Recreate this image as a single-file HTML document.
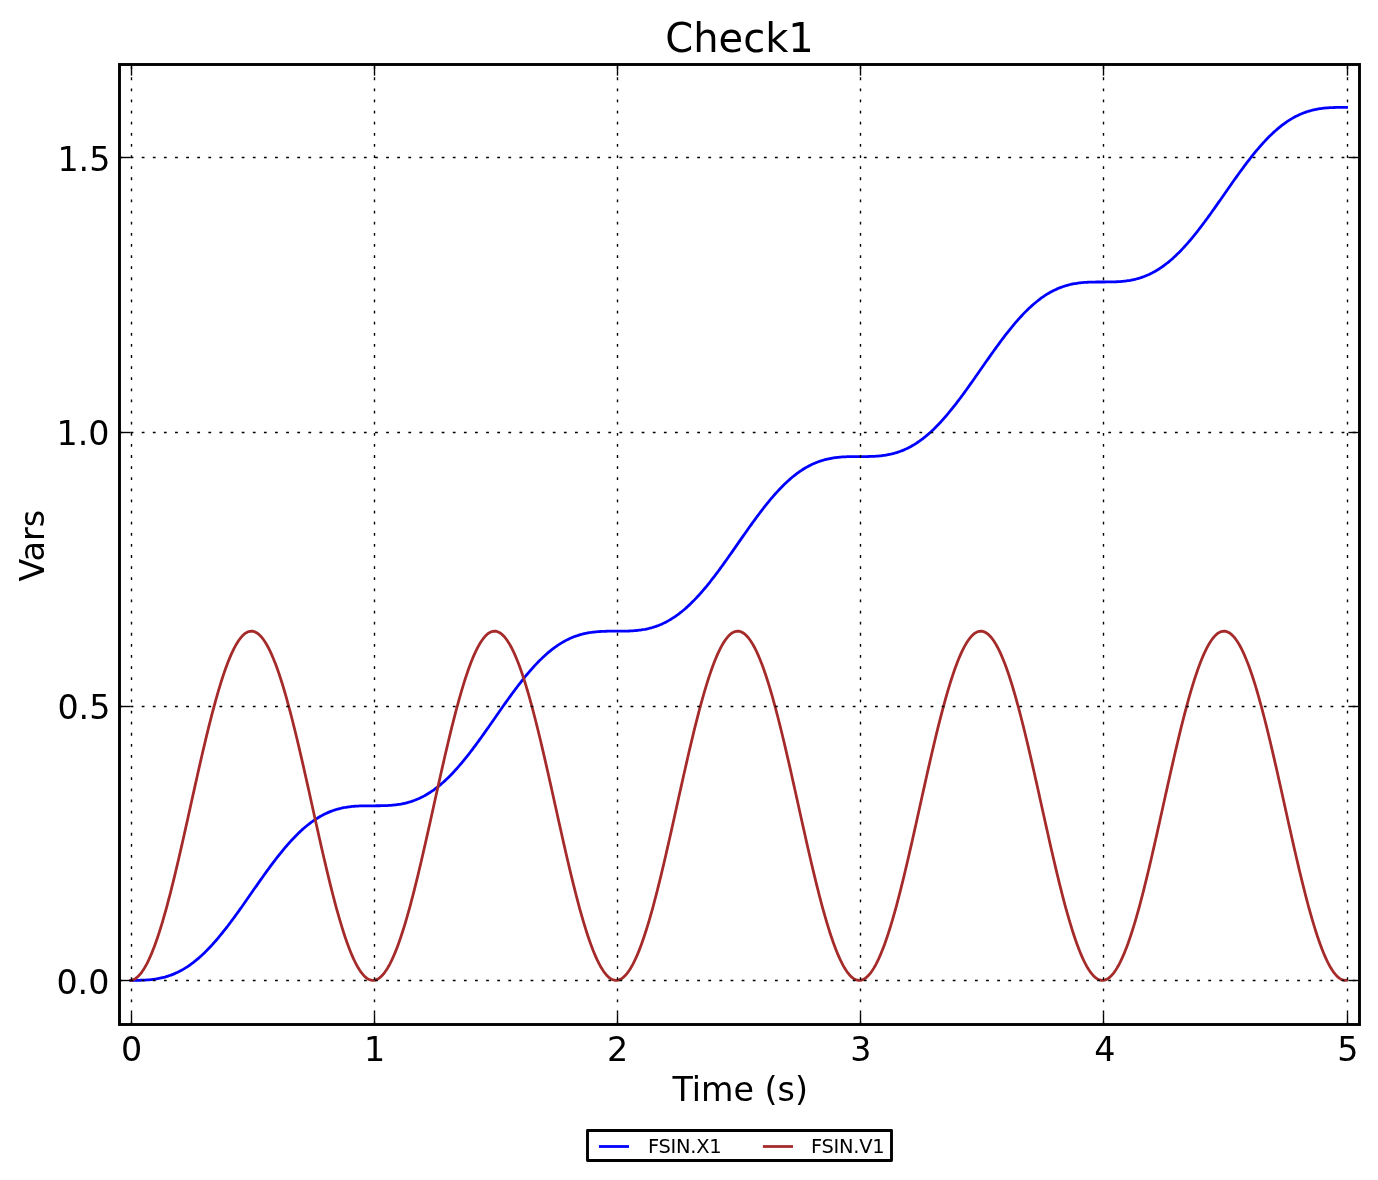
<!DOCTYPE html>
<html lang="en"><head><meta charset="utf-8"><title>Check1</title>
<style>html,body{margin:0;padding:0;background:#fff}svg{display:block}text{font-family:"DejaVu Sans","Liberation Sans",sans-serif;fill:#000}</style></head><body>
<svg width="1378" height="1180" viewBox="0 0 1378 1180">
<rect x="0" y="0" width="1378" height="1180" fill="#fff"/>
<path d="M130.88,980.36 L132.10,980.36 L133.31,980.36 L134.53,980.35 L135.74,980.34 L136.96,980.33 L138.17,980.31 L139.39,980.29 L140.61,980.26 L141.82,980.22 L143.04,980.18 L144.25,980.12 L145.47,980.06 L146.68,979.98 L147.90,979.89 L149.12,979.79 L150.33,979.68 L151.55,979.55 L152.76,979.41 L153.98,979.26 L155.19,979.08 L156.41,978.89 L157.63,978.69 L158.84,978.46 L160.06,978.22 L161.27,977.96 L162.49,977.67 L163.70,977.37 L164.92,977.05 L166.13,976.70 L167.35,976.33 L168.57,975.94 L169.78,975.53 L171.00,975.09 L172.21,974.63 L173.43,974.15 L174.64,973.64 L175.86,973.10 L177.08,972.54 L178.29,971.95 L179.51,971.34 L180.72,970.70 L181.94,970.04 L183.15,969.34 L184.37,968.62 L185.59,967.88 L186.80,967.11 L188.02,966.30 L189.23,965.48 L190.45,964.62 L191.66,963.74 L192.88,962.83 L194.10,961.89 L195.31,960.93 L196.53,959.93 L197.74,958.91 L198.96,957.87 L200.17,956.79 L201.39,955.70 L202.61,954.57 L203.82,953.42 L205.04,952.24 L206.25,951.04 L207.47,949.81 L208.68,948.55 L209.90,947.28 L211.12,945.97 L212.33,944.65 L213.55,943.30 L214.76,941.93 L215.98,940.53 L217.19,939.12 L218.41,937.68 L219.63,936.22 L220.84,934.74 L222.06,933.25 L223.27,931.73 L224.49,930.20 L225.70,928.65 L226.92,927.08 L228.13,925.49 L229.35,923.89 L230.57,922.28 L231.78,920.65 L233.00,919.00 L234.21,917.35 L235.43,915.68 L236.64,914.00 L237.86,912.32 L239.08,910.62 L240.29,908.91 L241.51,907.20 L242.72,905.48 L243.94,903.75 L245.15,902.02 L246.37,900.28 L247.59,898.54 L248.80,896.80 L250.02,895.05 L251.23,893.31 L252.45,891.56 L253.66,889.82 L254.88,888.07 L256.10,886.33 L257.31,884.59 L258.53,882.86 L259.74,881.13 L260.96,879.41 L262.17,877.69 L263.39,875.99 L264.61,874.29 L265.82,872.59 L267.04,870.91 L268.25,869.24 L269.47,867.59 L270.68,865.94 L271.90,864.31 L273.12,862.69 L274.33,861.08 L275.55,859.49 L276.76,857.92 L277.98,856.36 L279.19,854.82 L280.41,853.30 L281.63,851.80 L282.84,850.32 L284.06,848.85 L285.27,847.41 L286.49,845.99 L287.70,844.59 L288.92,843.21 L290.13,841.85 L291.35,840.52 L292.57,839.21 L293.78,837.93 L295.00,836.67 L296.21,835.43 L297.43,834.22 L298.64,833.04 L299.86,831.88 L301.08,830.74 L302.29,829.64 L303.51,828.56 L304.72,827.50 L305.94,826.48 L307.15,825.48 L308.37,824.50 L309.59,823.56 L310.80,822.64 L312.02,821.75 L313.23,820.89 L314.45,820.05 L315.66,819.24 L316.88,818.46 L318.10,817.71 L319.31,816.98 L320.53,816.28 L321.74,815.61 L322.96,814.96 L324.17,814.34 L325.39,813.75 L326.61,813.18 L327.82,812.64 L329.04,812.12 L330.25,811.63 L331.47,811.16 L332.68,810.72 L333.90,810.30 L335.12,809.90 L336.33,809.53 L337.55,809.17 L338.76,808.84 L339.98,808.54 L341.19,808.25 L342.41,807.98 L343.63,807.73 L344.84,807.50 L346.06,807.29 L347.27,807.09 L348.49,806.92 L349.70,806.76 L350.92,806.61 L352.13,806.48 L353.35,806.36 L354.57,806.26 L355.78,806.17 L357.00,806.09 L358.21,806.02 L359.43,805.96 L360.64,805.92 L361.86,805.88 L363.08,805.84 L364.29,805.82 L365.51,805.80 L366.72,805.79 L367.94,805.78 L369.15,805.77 L370.37,805.77 L371.59,805.77 L372.80,805.77 L374.02,805.77 L375.23,805.77 L376.45,805.76 L377.66,805.76 L378.88,805.75 L380.10,805.74 L381.31,805.72 L382.53,805.70 L383.74,805.67 L384.96,805.63 L386.17,805.58 L387.39,805.53 L388.61,805.46 L389.82,805.39 L391.04,805.30 L392.25,805.20 L393.47,805.09 L394.68,804.96 L395.90,804.82 L397.12,804.66 L398.33,804.49 L399.55,804.30 L400.76,804.10 L401.98,803.87 L403.19,803.63 L404.41,803.36 L405.63,803.08 L406.84,802.78 L408.06,802.45 L409.27,802.11 L410.49,801.74 L411.70,801.35 L412.92,800.94 L414.13,800.50 L415.35,800.04 L416.57,799.55 L417.78,799.04 L419.00,798.51 L420.21,797.95 L421.43,797.36 L422.64,796.75 L423.86,796.11 L425.08,795.44 L426.29,794.75 L427.51,794.03 L428.72,793.29 L429.94,792.51 L431.15,791.71 L432.37,790.88 L433.59,790.03 L434.80,789.15 L436.02,788.23 L437.23,787.30 L438.45,786.33 L439.66,785.34 L440.88,784.32 L442.10,783.27 L443.31,782.20 L444.53,781.10 L445.74,779.98 L446.96,778.82 L448.17,777.65 L449.39,776.44 L450.61,775.21 L451.82,773.96 L453.04,772.68 L454.25,771.38 L455.47,770.05 L456.68,768.71 L457.90,767.33 L459.12,765.94 L460.33,764.52 L461.55,763.09 L462.76,761.63 L463.98,760.15 L465.19,758.65 L466.41,757.14 L467.63,755.60 L468.84,754.05 L470.06,752.48 L471.27,750.90 L472.49,749.30 L473.70,747.68 L474.92,746.05 L476.13,744.41 L477.35,742.76 L478.57,741.09 L479.78,739.41 L481.00,737.72 L482.21,736.03 L483.43,734.32 L484.64,732.61 L485.86,730.88 L487.08,729.16 L488.29,727.43 L489.51,725.69 L490.72,723.95 L491.94,722.21 L493.15,720.46 L494.37,718.71 L495.59,716.97 L496.80,715.22 L498.02,713.48 L499.23,711.74 L500.45,710.00 L501.66,708.27 L502.88,706.54 L504.10,704.82 L505.31,703.10 L506.53,701.39 L507.74,699.69 L508.96,698.00 L510.17,696.32 L511.39,694.65 L512.61,692.99 L513.82,691.35 L515.04,689.71 L516.25,688.09 L517.47,686.49 L518.68,684.90 L519.90,683.33 L521.12,681.77 L522.33,680.23 L523.55,678.71 L524.76,677.21 L525.98,675.72 L527.19,674.26 L528.41,672.82 L529.63,671.40 L530.84,670.00 L532.06,668.62 L533.27,667.26 L534.49,665.93 L535.70,664.62 L536.92,663.34 L538.13,662.08 L539.35,660.84 L540.57,659.63 L541.78,658.44 L543.00,657.28 L544.21,656.15 L545.43,655.04 L546.64,653.96 L547.86,652.91 L549.08,651.88 L550.29,650.88 L551.51,649.91 L552.72,648.97 L553.94,648.05 L555.15,647.16 L556.37,646.29 L557.59,645.46 L558.80,644.65 L560.02,643.87 L561.23,643.12 L562.45,642.39 L563.66,641.69 L564.88,641.02 L566.10,640.37 L567.31,639.75 L568.53,639.16 L569.74,638.59 L570.96,638.05 L572.17,637.53 L573.39,637.04 L574.61,636.57 L575.82,636.12 L577.04,635.70 L578.25,635.31 L579.47,634.93 L580.68,634.58 L581.90,634.25 L583.12,633.94 L584.33,633.65 L585.55,633.39 L586.76,633.14 L587.98,632.91 L589.19,632.70 L590.41,632.50 L591.63,632.32 L592.84,632.16 L594.06,632.02 L595.27,631.89 L596.49,631.77 L597.70,631.67 L598.92,631.58 L600.13,631.50 L601.35,631.43 L602.57,631.37 L603.78,631.32 L605.00,631.28 L606.21,631.25 L607.43,631.23 L608.64,631.21 L609.86,631.19 L611.08,631.18 L612.29,631.18 L613.51,631.18 L614.72,631.17 L615.94,631.17 L617.15,631.17 L618.37,631.17 L619.59,631.17 L620.80,631.17 L622.02,631.16 L623.23,631.15 L624.45,631.13 L625.66,631.10 L626.88,631.07 L628.10,631.04 L629.31,630.99 L630.53,630.94 L631.74,630.87 L632.96,630.80 L634.17,630.71 L635.39,630.61 L636.61,630.50 L637.82,630.37 L639.04,630.23 L640.25,630.07 L641.47,629.90 L642.68,629.71 L643.90,629.50 L645.12,629.28 L646.33,629.03 L647.55,628.77 L648.76,628.49 L649.98,628.19 L651.19,627.86 L652.41,627.52 L653.63,627.15 L654.84,626.76 L656.06,626.34 L657.27,625.91 L658.49,625.45 L659.70,624.96 L660.92,624.45 L662.13,623.91 L663.35,623.35 L664.57,622.77 L665.78,622.15 L667.00,621.52 L668.21,620.85 L669.43,620.16 L670.64,619.44 L671.86,618.69 L673.08,617.92 L674.29,617.12 L675.51,616.29 L676.72,615.44 L677.94,614.55 L679.15,613.64 L680.37,612.70 L681.59,611.74 L682.80,610.75 L684.02,609.73 L685.23,608.68 L686.45,607.61 L687.66,606.51 L688.88,605.38 L690.10,604.23 L691.31,603.05 L692.53,601.85 L693.74,600.62 L694.96,599.37 L696.17,598.09 L697.39,596.79 L698.61,595.46 L699.82,594.11 L701.04,592.74 L702.25,591.35 L703.47,589.93 L704.68,588.49 L705.90,587.04 L707.12,585.56 L708.33,584.06 L709.55,582.55 L710.76,581.01 L711.98,579.46 L713.19,577.89 L714.41,576.31 L715.63,574.71 L716.84,573.09 L718.06,571.46 L719.27,569.82 L720.49,568.16 L721.70,566.50 L722.92,564.82 L724.13,563.13 L725.35,561.43 L726.57,559.73 L727.78,558.01 L729.00,556.29 L730.21,554.56 L731.43,552.83 L732.64,551.10 L733.86,549.36 L735.08,547.61 L736.29,545.87 L737.51,544.12 L738.72,542.38 L739.94,540.63 L741.15,538.89 L742.37,537.15 L743.59,535.41 L744.80,533.68 L746.02,531.95 L747.23,530.22 L748.45,528.51 L749.66,526.80 L750.88,525.10 L752.10,523.41 L753.31,521.73 L754.53,520.06 L755.74,518.40 L756.96,516.75 L758.17,515.12 L759.39,513.50 L760.61,511.90 L761.82,510.31 L763.04,508.73 L764.25,507.18 L765.47,505.64 L766.68,504.12 L767.90,502.61 L769.12,501.13 L770.33,499.67 L771.55,498.22 L772.76,496.80 L773.98,495.40 L775.19,494.02 L776.41,492.67 L777.63,491.34 L778.84,490.03 L780.06,488.74 L781.27,487.48 L782.49,486.25 L783.70,485.04 L784.92,483.85 L786.13,482.69 L787.35,481.56 L788.57,480.45 L789.78,479.37 L791.00,478.32 L792.21,477.29 L793.43,476.29 L794.64,475.32 L795.86,474.37 L797.08,473.45 L798.29,472.56 L799.51,471.70 L800.72,470.87 L801.94,470.06 L803.15,469.28 L804.37,468.52 L805.59,467.80 L806.80,467.10 L808.02,466.42 L809.23,465.78 L810.45,465.16 L811.66,464.56 L812.88,464.00 L814.10,463.45 L815.31,462.94 L816.53,462.44 L817.74,461.98 L818.96,461.53 L820.17,461.11 L821.39,460.71 L822.61,460.34 L823.82,459.99 L825.04,459.66 L826.25,459.35 L827.47,459.06 L828.68,458.79 L829.90,458.54 L831.12,458.31 L832.33,458.10 L833.55,457.91 L834.76,457.73 L835.98,457.57 L837.19,457.42 L838.41,457.29 L839.63,457.18 L840.84,457.07 L842.06,456.98 L843.27,456.90 L844.49,456.84 L845.70,456.78 L846.92,456.73 L848.13,456.69 L849.35,456.66 L850.57,456.63 L851.78,456.61 L853.00,456.60 L854.21,456.59 L855.43,456.59 L856.64,456.58 L857.86,456.58 L859.08,456.58 L860.29,456.58 L861.51,456.58 L862.72,456.58 L863.94,456.57 L865.15,456.56 L866.37,456.55 L867.59,456.53 L868.80,456.51 L870.02,456.48 L871.23,456.44 L872.45,456.40 L873.66,456.34 L874.88,456.28 L876.10,456.20 L877.31,456.11 L878.53,456.02 L879.74,455.90 L880.96,455.78 L882.17,455.63 L883.39,455.48 L884.61,455.31 L885.82,455.12 L887.04,454.91 L888.25,454.68 L889.47,454.44 L890.68,454.18 L891.90,453.90 L893.12,453.59 L894.33,453.27 L895.55,452.92 L896.76,452.55 L897.98,452.16 L899.19,451.75 L900.41,451.31 L901.63,450.85 L902.84,450.37 L904.06,449.86 L905.27,449.32 L906.49,448.76 L907.70,448.17 L908.92,447.56 L910.13,446.92 L911.35,446.26 L912.57,445.56 L913.78,444.85 L915.00,444.10 L916.21,443.33 L917.43,442.53 L918.64,441.70 L919.86,440.84 L921.08,439.96 L922.29,439.05 L923.51,438.11 L924.72,437.15 L925.94,436.15 L927.15,435.14 L928.37,434.09 L929.59,433.02 L930.80,431.92 L932.02,430.79 L933.23,429.64 L934.45,428.46 L935.66,427.26 L936.88,426.03 L938.10,424.77 L939.31,423.50 L940.53,422.19 L941.74,420.87 L942.96,419.52 L944.17,418.15 L945.39,416.75 L946.61,415.34 L947.82,413.90 L949.04,412.44 L950.25,410.97 L951.47,409.47 L952.68,407.95 L953.90,406.42 L955.12,404.87 L956.33,403.30 L957.55,401.71 L958.76,400.11 L959.98,398.50 L961.19,396.87 L962.41,395.23 L963.63,393.57 L964.84,391.90 L966.06,390.23 L967.27,388.54 L968.49,386.84 L969.70,385.13 L970.92,383.42 L972.13,381.70 L973.35,379.97 L974.57,378.24 L975.78,376.50 L977.00,374.76 L978.21,373.02 L979.43,371.27 L980.64,369.53 L981.86,367.78 L983.08,366.04 L984.29,364.29 L985.51,362.55 L986.72,360.82 L987.94,359.08 L989.15,357.35 L990.37,355.63 L991.59,353.92 L992.80,352.21 L994.02,350.51 L995.23,348.82 L996.45,347.13 L997.66,345.46 L998.88,343.81 L1000.10,342.16 L1001.31,340.53 L1002.53,338.91 L1003.74,337.30 L1004.96,335.71 L1006.17,334.14 L1007.39,332.58 L1008.61,331.04 L1009.82,329.52 L1011.04,328.02 L1012.25,326.54 L1013.47,325.07 L1014.68,323.63 L1015.90,322.21 L1017.12,320.81 L1018.33,319.43 L1019.55,318.08 L1020.76,316.74 L1021.98,315.43 L1023.19,314.15 L1024.41,312.89 L1025.63,311.65 L1026.84,310.44 L1028.06,309.26 L1029.27,308.10 L1030.49,306.97 L1031.70,305.86 L1032.92,304.78 L1034.13,303.72 L1035.35,302.70 L1036.57,301.70 L1037.78,300.73 L1039.00,299.78 L1040.21,298.86 L1041.43,297.97 L1042.64,297.11 L1043.86,296.27 L1045.08,295.46 L1046.29,294.68 L1047.51,293.93 L1048.72,293.20 L1049.94,292.50 L1051.15,291.83 L1052.37,291.18 L1053.59,290.56 L1054.80,289.97 L1056.02,289.40 L1057.23,288.86 L1058.45,288.34 L1059.66,287.85 L1060.88,287.38 L1062.10,286.94 L1063.31,286.52 L1064.53,286.12 L1065.74,285.75 L1066.96,285.40 L1068.17,285.07 L1069.39,284.76 L1070.61,284.47 L1071.82,284.20 L1073.04,283.95 L1074.25,283.72 L1075.47,283.51 L1076.68,283.32 L1077.90,283.14 L1079.12,282.98 L1080.33,282.83 L1081.55,282.70 L1082.76,282.58 L1083.98,282.48 L1085.19,282.39 L1086.41,282.31 L1087.63,282.24 L1088.84,282.19 L1090.06,282.14 L1091.27,282.10 L1092.49,282.07 L1093.70,282.04 L1094.92,282.02 L1096.13,282.01 L1097.35,282.00 L1098.57,281.99 L1099.78,281.99 L1101.00,281.99 L1102.21,281.99 L1103.43,281.99 L1104.64,281.99 L1105.86,281.98 L1107.08,281.98 L1108.29,281.97 L1109.51,281.96 L1110.72,281.94 L1111.94,281.92 L1113.15,281.89 L1114.37,281.85 L1115.59,281.81 L1116.80,281.75 L1118.02,281.69 L1119.23,281.61 L1120.45,281.52 L1121.66,281.42 L1122.88,281.31 L1124.10,281.18 L1125.31,281.04 L1126.53,280.88 L1127.74,280.71 L1128.96,280.52 L1130.17,280.32 L1131.39,280.09 L1132.61,279.85 L1133.82,279.59 L1135.04,279.30 L1136.25,279.00 L1137.47,278.68 L1138.68,278.33 L1139.90,277.96 L1141.12,277.57 L1142.33,277.16 L1143.55,276.72 L1144.76,276.26 L1145.98,275.77 L1147.19,275.26 L1148.41,274.73 L1149.63,274.17 L1150.84,273.58 L1152.06,272.97 L1153.27,272.33 L1154.49,271.66 L1155.70,270.97 L1156.92,270.25 L1158.13,269.51 L1159.35,268.73 L1160.57,267.93 L1161.78,267.10 L1163.00,266.25 L1164.21,265.37 L1165.43,264.46 L1166.64,263.52 L1167.86,262.55 L1169.08,261.56 L1170.29,260.54 L1171.51,259.50 L1172.72,258.42 L1173.94,257.32 L1175.15,256.20 L1176.37,255.05 L1177.59,253.87 L1178.80,252.66 L1180.02,251.44 L1181.23,250.18 L1182.45,248.90 L1183.66,247.60 L1184.88,246.28 L1186.10,244.93 L1187.31,243.55 L1188.53,242.16 L1189.74,240.75 L1190.96,239.31 L1192.17,237.85 L1193.39,236.37 L1194.61,234.88 L1195.82,233.36 L1197.04,231.83 L1198.25,230.27 L1199.47,228.70 L1200.68,227.12 L1201.90,225.52 L1203.12,223.90 L1204.33,222.27 L1205.55,220.63 L1206.76,218.98 L1207.98,217.31 L1209.19,215.63 L1210.41,213.94 L1211.63,212.25 L1212.84,210.54 L1214.06,208.83 L1215.27,207.11 L1216.49,205.38 L1217.70,203.65 L1218.92,201.91 L1220.13,200.17 L1221.35,198.43 L1222.57,196.68 L1223.78,194.94 L1225.00,193.19 L1226.21,191.45 L1227.43,189.70 L1228.64,187.96 L1229.86,186.22 L1231.08,184.49 L1232.29,182.76 L1233.51,181.04 L1234.72,179.32 L1235.94,177.61 L1237.15,175.91 L1238.37,174.22 L1239.59,172.54 L1240.80,170.87 L1242.02,169.21 L1243.23,167.57 L1244.45,165.93 L1245.66,164.31 L1246.88,162.71 L1248.10,161.12 L1249.31,159.55 L1250.53,157.99 L1251.74,156.45 L1252.96,154.93 L1254.17,153.43 L1255.39,151.94 L1256.61,150.48 L1257.82,149.04 L1259.04,147.62 L1260.25,146.22 L1261.47,144.84 L1262.68,143.48 L1263.90,142.15 L1265.12,140.84 L1266.33,139.56 L1267.55,138.30 L1268.76,137.06 L1269.98,135.85 L1271.19,134.67 L1272.41,133.51 L1273.63,132.37 L1274.84,131.27 L1276.06,130.19 L1277.27,129.13 L1278.49,128.10 L1279.70,127.10 L1280.92,126.13 L1282.13,125.19 L1283.35,124.27 L1284.57,123.38 L1285.78,122.52 L1287.00,121.68 L1288.21,120.87 L1289.43,120.09 L1290.64,119.34 L1291.86,118.61 L1293.08,117.91 L1294.29,117.24 L1295.51,116.59 L1296.72,115.97 L1297.94,115.38 L1299.15,114.81 L1300.37,114.27 L1301.59,113.75 L1302.80,113.26 L1304.02,112.79 L1305.23,112.35 L1306.45,111.93 L1307.66,111.53 L1308.88,111.15 L1310.10,110.80 L1311.31,110.47 L1312.53,110.16 L1313.74,109.87 L1314.96,109.61 L1316.17,109.36 L1317.39,109.13 L1318.61,108.92 L1319.82,108.72 L1321.04,108.54 L1322.25,108.38 L1323.47,108.24 L1324.68,108.11 L1325.90,107.99 L1327.12,107.89 L1328.33,107.80 L1329.55,107.72 L1330.76,107.65 L1331.98,107.59 L1333.19,107.54 L1334.41,107.50 L1335.63,107.47 L1336.84,107.45 L1338.06,107.43 L1339.27,107.41 L1340.49,107.41 L1341.70,107.40 L1342.92,107.40 L1344.13,107.40 L1345.35,107.40 L1346.57,107.40" fill="none" stroke="#0000ff" stroke-width="2.78" stroke-linejoin="round" stroke-linecap="square"/>
<path d="M130.88,980.30 L132.10,980.06 L133.31,979.66 L134.53,979.08 L135.74,978.33 L136.96,977.41 L138.17,976.32 L139.39,975.06 L140.61,973.64 L141.82,972.05 L143.04,970.30 L144.25,968.38 L145.47,966.30 L146.68,964.07 L147.90,961.68 L149.12,959.13 L150.33,956.44 L151.55,953.59 L152.76,950.60 L153.98,947.47 L155.19,944.19 L156.41,940.78 L157.63,937.24 L158.84,933.56 L160.06,929.76 L161.27,925.84 L162.49,921.80 L163.70,917.65 L164.92,913.38 L166.13,909.01 L167.35,904.54 L168.57,899.97 L169.78,895.30 L171.00,890.55 L172.21,885.71 L173.43,880.80 L174.64,875.81 L175.86,870.75 L177.08,865.63 L178.29,860.45 L179.51,855.21 L180.72,849.93 L181.94,844.60 L183.15,839.24 L184.37,833.84 L185.59,828.41 L186.80,822.96 L188.02,817.50 L189.23,812.02 L190.45,806.53 L191.66,801.05 L192.88,795.57 L194.10,790.10 L195.31,784.65 L196.53,779.21 L197.74,773.81 L198.96,768.43 L200.17,763.09 L201.39,757.80 L202.61,752.55 L203.82,747.35 L205.04,742.21 L206.25,737.13 L207.47,732.12 L208.68,727.19 L209.90,722.33 L211.12,717.55 L212.33,712.86 L213.55,708.27 L214.76,703.77 L215.98,699.37 L217.19,695.07 L218.41,690.88 L219.63,686.81 L220.84,682.86 L222.06,679.02 L223.27,675.31 L224.49,671.73 L225.70,668.28 L226.92,664.97 L228.13,661.80 L229.35,658.77 L230.57,655.88 L231.78,653.14 L233.00,650.55 L234.21,648.12 L235.43,645.84 L236.64,643.72 L237.86,641.76 L239.08,639.96 L240.29,638.32 L241.51,636.85 L242.72,635.55 L243.94,634.41 L245.15,633.45 L246.37,632.65 L247.59,632.02 L248.80,631.57 L250.02,631.29 L251.23,631.18 L252.45,631.24 L253.66,631.47 L254.88,631.88 L256.10,632.46 L257.31,633.21 L258.53,634.12 L259.74,635.21 L260.96,636.47 L262.17,637.89 L263.39,639.48 L264.61,641.24 L265.82,643.15 L267.04,645.23 L268.25,647.47 L269.47,649.86 L270.68,652.40 L271.90,655.10 L273.12,657.94 L274.33,660.93 L275.55,664.07 L276.76,667.34 L277.98,670.75 L279.19,674.30 L280.41,677.97 L281.63,681.77 L282.84,685.69 L284.06,689.73 L285.27,693.89 L286.49,698.15 L287.70,702.52 L288.92,707.00 L290.13,711.57 L291.35,716.23 L292.57,720.98 L293.78,725.82 L295.00,730.73 L296.21,735.72 L297.43,740.78 L298.64,745.90 L299.86,751.09 L301.08,756.32 L302.29,761.60 L303.51,766.93 L304.72,772.30 L305.94,777.70 L307.15,783.12 L308.37,788.57 L309.59,794.04 L310.80,799.52 L312.02,805.00 L313.23,810.48 L314.45,815.96 L315.66,821.43 L316.88,826.89 L318.10,832.32 L319.31,837.73 L320.53,843.10 L321.74,848.44 L322.96,853.74 L324.17,858.99 L325.39,864.19 L326.61,869.32 L327.82,874.40 L329.04,879.41 L330.25,884.35 L331.47,889.20 L332.68,893.98 L333.90,898.67 L335.12,903.27 L336.33,907.77 L337.55,912.17 L338.76,916.46 L339.98,920.65 L341.19,924.72 L342.41,928.68 L343.63,932.51 L344.84,936.22 L346.06,939.80 L347.27,943.25 L348.49,946.56 L349.70,949.74 L350.92,952.77 L352.13,955.65 L353.35,958.39 L354.57,960.98 L355.78,963.41 L357.00,965.69 L358.21,967.82 L359.43,969.78 L360.64,971.58 L361.86,973.21 L363.08,974.68 L364.29,975.99 L365.51,977.12 L366.72,978.09 L367.94,978.89 L369.15,979.51 L370.37,979.97 L371.59,980.25 L372.80,980.36 L374.02,980.30 L375.23,980.06 L376.45,979.66 L377.66,979.08 L378.88,978.33 L380.10,977.41 L381.31,976.32 L382.53,975.06 L383.74,973.64 L384.96,972.05 L386.17,970.30 L387.39,968.38 L388.61,966.30 L389.82,964.07 L391.04,961.68 L392.25,959.13 L393.47,956.44 L394.68,953.59 L395.90,950.60 L397.12,947.47 L398.33,944.19 L399.55,940.78 L400.76,937.24 L401.98,933.56 L403.19,929.76 L404.41,925.84 L405.63,921.80 L406.84,917.65 L408.06,913.38 L409.27,909.01 L410.49,904.54 L411.70,899.97 L412.92,895.30 L414.13,890.55 L415.35,885.71 L416.57,880.80 L417.78,875.81 L419.00,870.75 L420.21,865.63 L421.43,860.45 L422.64,855.21 L423.86,849.93 L425.08,844.60 L426.29,839.24 L427.51,833.84 L428.72,828.41 L429.94,822.96 L431.15,817.50 L432.37,812.02 L433.59,806.53 L434.80,801.05 L436.02,795.57 L437.23,790.10 L438.45,784.65 L439.66,779.21 L440.88,773.81 L442.10,768.43 L443.31,763.09 L444.53,757.80 L445.74,752.55 L446.96,747.35 L448.17,742.21 L449.39,737.13 L450.61,732.12 L451.82,727.19 L453.04,722.33 L454.25,717.55 L455.47,712.86 L456.68,708.27 L457.90,703.77 L459.12,699.37 L460.33,695.07 L461.55,690.88 L462.76,686.81 L463.98,682.86 L465.19,679.02 L466.41,675.31 L467.63,671.73 L468.84,668.28 L470.06,664.97 L471.27,661.80 L472.49,658.77 L473.70,655.88 L474.92,653.14 L476.13,650.55 L477.35,648.12 L478.57,645.84 L479.78,643.72 L481.00,641.76 L482.21,639.96 L483.43,638.32 L484.64,636.85 L485.86,635.55 L487.08,634.41 L488.29,633.45 L489.51,632.65 L490.72,632.02 L491.94,631.57 L493.15,631.29 L494.37,631.18 L495.59,631.24 L496.80,631.47 L498.02,631.88 L499.23,632.46 L500.45,633.21 L501.66,634.12 L502.88,635.21 L504.10,636.47 L505.31,637.89 L506.53,639.48 L507.74,641.24 L508.96,643.15 L510.17,645.23 L511.39,647.47 L512.61,649.86 L513.82,652.40 L515.04,655.10 L516.25,657.94 L517.47,660.93 L518.68,664.07 L519.90,667.34 L521.12,670.75 L522.33,674.30 L523.55,677.97 L524.76,681.77 L525.98,685.69 L527.19,689.73 L528.41,693.89 L529.63,698.15 L530.84,702.52 L532.06,707.00 L533.27,711.57 L534.49,716.23 L535.70,720.98 L536.92,725.82 L538.13,730.73 L539.35,735.72 L540.57,740.78 L541.78,745.90 L543.00,751.09 L544.21,756.32 L545.43,761.60 L546.64,766.93 L547.86,772.30 L549.08,777.70 L550.29,783.12 L551.51,788.57 L552.72,794.04 L553.94,799.52 L555.15,805.00 L556.37,810.48 L557.59,815.96 L558.80,821.43 L560.02,826.89 L561.23,832.32 L562.45,837.73 L563.66,843.10 L564.88,848.44 L566.10,853.74 L567.31,858.99 L568.53,864.19 L569.74,869.32 L570.96,874.40 L572.17,879.41 L573.39,884.35 L574.61,889.20 L575.82,893.98 L577.04,898.67 L578.25,903.27 L579.47,907.77 L580.68,912.17 L581.90,916.46 L583.12,920.65 L584.33,924.72 L585.55,928.68 L586.76,932.51 L587.98,936.22 L589.19,939.80 L590.41,943.25 L591.63,946.56 L592.84,949.74 L594.06,952.77 L595.27,955.65 L596.49,958.39 L597.70,960.98 L598.92,963.41 L600.13,965.69 L601.35,967.82 L602.57,969.78 L603.78,971.58 L605.00,973.21 L606.21,974.68 L607.43,975.99 L608.64,977.12 L609.86,978.09 L611.08,978.89 L612.29,979.51 L613.51,979.97 L614.72,980.25 L615.94,980.36 L617.15,980.30 L618.37,980.06 L619.59,979.66 L620.80,979.08 L622.02,978.33 L623.23,977.41 L624.45,976.32 L625.66,975.06 L626.88,973.64 L628.10,972.05 L629.31,970.30 L630.53,968.38 L631.74,966.30 L632.96,964.07 L634.17,961.68 L635.39,959.13 L636.61,956.44 L637.82,953.59 L639.04,950.60 L640.25,947.47 L641.47,944.19 L642.68,940.78 L643.90,937.24 L645.12,933.56 L646.33,929.76 L647.55,925.84 L648.76,921.80 L649.98,917.65 L651.19,913.38 L652.41,909.01 L653.63,904.54 L654.84,899.97 L656.06,895.30 L657.27,890.55 L658.49,885.71 L659.70,880.80 L660.92,875.81 L662.13,870.75 L663.35,865.63 L664.57,860.45 L665.78,855.21 L667.00,849.93 L668.21,844.60 L669.43,839.24 L670.64,833.84 L671.86,828.41 L673.08,822.96 L674.29,817.50 L675.51,812.02 L676.72,806.53 L677.94,801.05 L679.15,795.57 L680.37,790.10 L681.59,784.65 L682.80,779.21 L684.02,773.81 L685.23,768.43 L686.45,763.09 L687.66,757.80 L688.88,752.55 L690.10,747.35 L691.31,742.21 L692.53,737.13 L693.74,732.12 L694.96,727.19 L696.17,722.33 L697.39,717.55 L698.61,712.86 L699.82,708.27 L701.04,703.77 L702.25,699.37 L703.47,695.07 L704.68,690.88 L705.90,686.81 L707.12,682.86 L708.33,679.02 L709.55,675.31 L710.76,671.73 L711.98,668.28 L713.19,664.97 L714.41,661.80 L715.63,658.77 L716.84,655.88 L718.06,653.14 L719.27,650.55 L720.49,648.12 L721.70,645.84 L722.92,643.72 L724.13,641.76 L725.35,639.96 L726.57,638.32 L727.78,636.85 L729.00,635.55 L730.21,634.41 L731.43,633.45 L732.64,632.65 L733.86,632.02 L735.08,631.57 L736.29,631.29 L737.51,631.18 L738.72,631.24 L739.94,631.47 L741.15,631.88 L742.37,632.46 L743.59,633.21 L744.80,634.12 L746.02,635.21 L747.23,636.47 L748.45,637.89 L749.66,639.48 L750.88,641.24 L752.10,643.15 L753.31,645.23 L754.53,647.47 L755.74,649.86 L756.96,652.40 L758.17,655.10 L759.39,657.94 L760.61,660.93 L761.82,664.07 L763.04,667.34 L764.25,670.75 L765.47,674.30 L766.68,677.97 L767.90,681.77 L769.12,685.69 L770.33,689.73 L771.55,693.89 L772.76,698.15 L773.98,702.52 L775.19,707.00 L776.41,711.57 L777.63,716.23 L778.84,720.98 L780.06,725.82 L781.27,730.73 L782.49,735.72 L783.70,740.78 L784.92,745.90 L786.13,751.09 L787.35,756.32 L788.57,761.60 L789.78,766.93 L791.00,772.30 L792.21,777.70 L793.43,783.12 L794.64,788.57 L795.86,794.04 L797.08,799.52 L798.29,805.00 L799.51,810.48 L800.72,815.96 L801.94,821.43 L803.15,826.89 L804.37,832.32 L805.59,837.73 L806.80,843.10 L808.02,848.44 L809.23,853.74 L810.45,858.99 L811.66,864.19 L812.88,869.32 L814.10,874.40 L815.31,879.41 L816.53,884.35 L817.74,889.20 L818.96,893.98 L820.17,898.67 L821.39,903.27 L822.61,907.77 L823.82,912.17 L825.04,916.46 L826.25,920.65 L827.47,924.72 L828.68,928.68 L829.90,932.51 L831.12,936.22 L832.33,939.80 L833.55,943.25 L834.76,946.56 L835.98,949.74 L837.19,952.77 L838.41,955.65 L839.63,958.39 L840.84,960.98 L842.06,963.41 L843.27,965.69 L844.49,967.82 L845.70,969.78 L846.92,971.58 L848.13,973.21 L849.35,974.68 L850.57,975.99 L851.78,977.12 L853.00,978.09 L854.21,978.89 L855.43,979.51 L856.64,979.97 L857.86,980.25 L859.08,980.36 L860.29,980.30 L861.51,980.06 L862.72,979.66 L863.94,979.08 L865.15,978.33 L866.37,977.41 L867.59,976.32 L868.80,975.06 L870.02,973.64 L871.23,972.05 L872.45,970.30 L873.66,968.38 L874.88,966.30 L876.10,964.07 L877.31,961.68 L878.53,959.13 L879.74,956.44 L880.96,953.59 L882.17,950.60 L883.39,947.47 L884.61,944.19 L885.82,940.78 L887.04,937.24 L888.25,933.56 L889.47,929.76 L890.68,925.84 L891.90,921.80 L893.12,917.65 L894.33,913.38 L895.55,909.01 L896.76,904.54 L897.98,899.97 L899.19,895.30 L900.41,890.55 L901.63,885.71 L902.84,880.80 L904.06,875.81 L905.27,870.75 L906.49,865.63 L907.70,860.45 L908.92,855.21 L910.13,849.93 L911.35,844.60 L912.57,839.24 L913.78,833.84 L915.00,828.41 L916.21,822.96 L917.43,817.50 L918.64,812.02 L919.86,806.53 L921.08,801.05 L922.29,795.57 L923.51,790.10 L924.72,784.65 L925.94,779.21 L927.15,773.81 L928.37,768.43 L929.59,763.09 L930.80,757.80 L932.02,752.55 L933.23,747.35 L934.45,742.21 L935.66,737.13 L936.88,732.12 L938.10,727.19 L939.31,722.33 L940.53,717.55 L941.74,712.86 L942.96,708.27 L944.17,703.77 L945.39,699.37 L946.61,695.07 L947.82,690.88 L949.04,686.81 L950.25,682.86 L951.47,679.02 L952.68,675.31 L953.90,671.73 L955.12,668.28 L956.33,664.97 L957.55,661.80 L958.76,658.77 L959.98,655.88 L961.19,653.14 L962.41,650.55 L963.63,648.12 L964.84,645.84 L966.06,643.72 L967.27,641.76 L968.49,639.96 L969.70,638.32 L970.92,636.85 L972.13,635.55 L973.35,634.41 L974.57,633.45 L975.78,632.65 L977.00,632.02 L978.21,631.57 L979.43,631.29 L980.64,631.18 L981.86,631.24 L983.08,631.47 L984.29,631.88 L985.51,632.46 L986.72,633.21 L987.94,634.12 L989.15,635.21 L990.37,636.47 L991.59,637.89 L992.80,639.48 L994.02,641.24 L995.23,643.15 L996.45,645.23 L997.66,647.47 L998.88,649.86 L1000.10,652.40 L1001.31,655.10 L1002.53,657.94 L1003.74,660.93 L1004.96,664.07 L1006.17,667.34 L1007.39,670.75 L1008.61,674.30 L1009.82,677.97 L1011.04,681.77 L1012.25,685.69 L1013.47,689.73 L1014.68,693.89 L1015.90,698.15 L1017.12,702.52 L1018.33,707.00 L1019.55,711.57 L1020.76,716.23 L1021.98,720.98 L1023.19,725.82 L1024.41,730.73 L1025.63,735.72 L1026.84,740.78 L1028.06,745.90 L1029.27,751.09 L1030.49,756.32 L1031.70,761.60 L1032.92,766.93 L1034.13,772.30 L1035.35,777.70 L1036.57,783.12 L1037.78,788.57 L1039.00,794.04 L1040.21,799.52 L1041.43,805.00 L1042.64,810.48 L1043.86,815.96 L1045.08,821.43 L1046.29,826.89 L1047.51,832.32 L1048.72,837.73 L1049.94,843.10 L1051.15,848.44 L1052.37,853.74 L1053.59,858.99 L1054.80,864.19 L1056.02,869.32 L1057.23,874.40 L1058.45,879.41 L1059.66,884.35 L1060.88,889.20 L1062.10,893.98 L1063.31,898.67 L1064.53,903.27 L1065.74,907.77 L1066.96,912.17 L1068.17,916.46 L1069.39,920.65 L1070.61,924.72 L1071.82,928.68 L1073.04,932.51 L1074.25,936.22 L1075.47,939.80 L1076.68,943.25 L1077.90,946.56 L1079.12,949.74 L1080.33,952.77 L1081.55,955.65 L1082.76,958.39 L1083.98,960.98 L1085.19,963.41 L1086.41,965.69 L1087.63,967.82 L1088.84,969.78 L1090.06,971.58 L1091.27,973.21 L1092.49,974.68 L1093.70,975.99 L1094.92,977.12 L1096.13,978.09 L1097.35,978.89 L1098.57,979.51 L1099.78,979.97 L1101.00,980.25 L1102.21,980.36 L1103.43,980.30 L1104.64,980.06 L1105.86,979.66 L1107.08,979.08 L1108.29,978.33 L1109.51,977.41 L1110.72,976.32 L1111.94,975.06 L1113.15,973.64 L1114.37,972.05 L1115.59,970.30 L1116.80,968.38 L1118.02,966.30 L1119.23,964.07 L1120.45,961.68 L1121.66,959.13 L1122.88,956.44 L1124.10,953.59 L1125.31,950.60 L1126.53,947.47 L1127.74,944.19 L1128.96,940.78 L1130.17,937.24 L1131.39,933.56 L1132.61,929.76 L1133.82,925.84 L1135.04,921.80 L1136.25,917.65 L1137.47,913.38 L1138.68,909.01 L1139.90,904.54 L1141.12,899.97 L1142.33,895.30 L1143.55,890.55 L1144.76,885.71 L1145.98,880.80 L1147.19,875.81 L1148.41,870.75 L1149.63,865.63 L1150.84,860.45 L1152.06,855.21 L1153.27,849.93 L1154.49,844.60 L1155.70,839.24 L1156.92,833.84 L1158.13,828.41 L1159.35,822.96 L1160.57,817.50 L1161.78,812.02 L1163.00,806.53 L1164.21,801.05 L1165.43,795.57 L1166.64,790.10 L1167.86,784.65 L1169.08,779.21 L1170.29,773.81 L1171.51,768.43 L1172.72,763.09 L1173.94,757.80 L1175.15,752.55 L1176.37,747.35 L1177.59,742.21 L1178.80,737.13 L1180.02,732.12 L1181.23,727.19 L1182.45,722.33 L1183.66,717.55 L1184.88,712.86 L1186.10,708.27 L1187.31,703.77 L1188.53,699.37 L1189.74,695.07 L1190.96,690.88 L1192.17,686.81 L1193.39,682.86 L1194.61,679.02 L1195.82,675.31 L1197.04,671.73 L1198.25,668.28 L1199.47,664.97 L1200.68,661.80 L1201.90,658.77 L1203.12,655.88 L1204.33,653.14 L1205.55,650.55 L1206.76,648.12 L1207.98,645.84 L1209.19,643.72 L1210.41,641.76 L1211.63,639.96 L1212.84,638.32 L1214.06,636.85 L1215.27,635.55 L1216.49,634.41 L1217.70,633.45 L1218.92,632.65 L1220.13,632.02 L1221.35,631.57 L1222.57,631.29 L1223.78,631.18 L1225.00,631.24 L1226.21,631.47 L1227.43,631.88 L1228.64,632.46 L1229.86,633.21 L1231.08,634.12 L1232.29,635.21 L1233.51,636.47 L1234.72,637.89 L1235.94,639.48 L1237.15,641.24 L1238.37,643.15 L1239.59,645.23 L1240.80,647.47 L1242.02,649.86 L1243.23,652.40 L1244.45,655.10 L1245.66,657.94 L1246.88,660.93 L1248.10,664.07 L1249.31,667.34 L1250.53,670.75 L1251.74,674.30 L1252.96,677.97 L1254.17,681.77 L1255.39,685.69 L1256.61,689.73 L1257.82,693.89 L1259.04,698.15 L1260.25,702.52 L1261.47,707.00 L1262.68,711.57 L1263.90,716.23 L1265.12,720.98 L1266.33,725.82 L1267.55,730.73 L1268.76,735.72 L1269.98,740.78 L1271.19,745.90 L1272.41,751.09 L1273.63,756.32 L1274.84,761.60 L1276.06,766.93 L1277.27,772.30 L1278.49,777.70 L1279.70,783.12 L1280.92,788.57 L1282.13,794.04 L1283.35,799.52 L1284.57,805.00 L1285.78,810.48 L1287.00,815.96 L1288.21,821.43 L1289.43,826.89 L1290.64,832.32 L1291.86,837.73 L1293.08,843.10 L1294.29,848.44 L1295.51,853.74 L1296.72,858.99 L1297.94,864.19 L1299.15,869.32 L1300.37,874.40 L1301.59,879.41 L1302.80,884.35 L1304.02,889.20 L1305.23,893.98 L1306.45,898.67 L1307.66,903.27 L1308.88,907.77 L1310.10,912.17 L1311.31,916.46 L1312.53,920.65 L1313.74,924.72 L1314.96,928.68 L1316.17,932.51 L1317.39,936.22 L1318.61,939.80 L1319.82,943.25 L1321.04,946.56 L1322.25,949.74 L1323.47,952.77 L1324.68,955.65 L1325.90,958.39 L1327.12,960.98 L1328.33,963.41 L1329.55,965.69 L1330.76,967.82 L1331.98,969.78 L1333.19,971.58 L1334.41,973.21 L1335.63,974.68 L1336.84,975.99 L1338.06,977.12 L1339.27,978.09 L1340.49,978.89 L1341.70,979.51 L1342.92,979.97 L1344.13,980.25 L1345.35,980.36 L1346.57,980.30" fill="none" stroke="#a52a2a" stroke-width="2.78" stroke-linejoin="round" stroke-linecap="square"/>
<g stroke="#000" stroke-width="1.39" stroke-dasharray="2.78 8.33" fill="none">
<line x1="131.50" y1="1024.50" x2="131.50" y2="64.50"/>
<line x1="374.50" y1="1024.50" x2="374.50" y2="64.50"/>
<line x1="617.50" y1="1024.50" x2="617.50" y2="64.50"/>
<line x1="860.50" y1="1024.50" x2="860.50" y2="64.50"/>
<line x1="1103.50" y1="1024.50" x2="1103.50" y2="64.50"/>
<line x1="1347.50" y1="1024.50" x2="1347.50" y2="64.50"/>
<line x1="119.50" y1="980.50" x2="1359.50" y2="980.50"/>
<line x1="119.50" y1="706.50" x2="1359.50" y2="706.50"/>
<line x1="119.50" y1="432.50" x2="1359.50" y2="432.50"/>
<line x1="119.50" y1="157.50" x2="1359.50" y2="157.50"/>
</g>
<g stroke="#000" stroke-width="1.39" fill="none">
<line x1="131.50" y1="1024.50" x2="131.50" y2="1013.39"/>
<line x1="131.50" y1="64.50" x2="131.50" y2="75.61"/>
<line x1="374.50" y1="1024.50" x2="374.50" y2="1013.39"/>
<line x1="374.50" y1="64.50" x2="374.50" y2="75.61"/>
<line x1="617.50" y1="1024.50" x2="617.50" y2="1013.39"/>
<line x1="617.50" y1="64.50" x2="617.50" y2="75.61"/>
<line x1="860.50" y1="1024.50" x2="860.50" y2="1013.39"/>
<line x1="860.50" y1="64.50" x2="860.50" y2="75.61"/>
<line x1="1103.50" y1="1024.50" x2="1103.50" y2="1013.39"/>
<line x1="1103.50" y1="64.50" x2="1103.50" y2="75.61"/>
<line x1="1347.50" y1="1024.50" x2="1347.50" y2="1013.39"/>
<line x1="1347.50" y1="64.50" x2="1347.50" y2="75.61"/>
<line x1="119.50" y1="980.50" x2="130.61" y2="980.50"/>
<line x1="1359.50" y1="980.50" x2="1348.39" y2="980.50"/>
<line x1="119.50" y1="706.50" x2="130.61" y2="706.50"/>
<line x1="1359.50" y1="706.50" x2="1348.39" y2="706.50"/>
<line x1="119.50" y1="432.50" x2="130.61" y2="432.50"/>
<line x1="1359.50" y1="432.50" x2="1348.39" y2="432.50"/>
<line x1="119.50" y1="157.50" x2="130.61" y2="157.50"/>
<line x1="1359.50" y1="157.50" x2="1348.39" y2="157.50"/>
</g>
<rect x="119.5" y="64.5" width="1240.0" height="960.0" fill="none" stroke="#000" stroke-width="2.9"/>
<text x="739.5" y="52" font-size="40" text-anchor="middle">Check1</text>
<text x="131.68" y="1060.5" font-size="33.33" text-anchor="middle">0</text>
<text x="374.72" y="1060.5" font-size="33.33" text-anchor="middle">1</text>
<text x="617.70" y="1060.5" font-size="33.33" text-anchor="middle">2</text>
<text x="860.84" y="1060.5" font-size="33.33" text-anchor="middle">3</text>
<text x="1104.98" y="1060.5" font-size="33.33" text-anchor="middle">4</text>
<text x="1347.77" y="1060.5" font-size="33.33" text-anchor="middle">5</text>
<text x="109.4" y="993.70" font-size="33.33" text-anchor="end">0.0</text>
<text x="110.4" y="718.70" font-size="33.33" text-anchor="end">0.5</text>
<text x="109.5" y="444.70" font-size="33.33" text-anchor="end">1.0</text>
<text x="110.4" y="170.70" font-size="33.33" text-anchor="end">1.5</text>
<text x="740.15" y="1101" font-size="33.33" text-anchor="middle">Time (s)</text>
<text transform="translate(44.05,545.75) rotate(-90)" font-size="33.33" text-anchor="middle">Vars</text>
<rect x="587.5" y="1130.5" width="304" height="30" fill="#fff" stroke="#000" stroke-width="2.9" stroke-linejoin="round"/>
<line x1="598.9" y1="1146.5" x2="629" y2="1146.5" stroke="#0000ff" stroke-width="2.78"/>
<line x1="762.9" y1="1146.5" x2="793" y2="1146.5" stroke="#a52a2a" stroke-width="2.78"/>
<text x="647.9" y="1153" font-size="19.44" letter-spacing="-0.26">FSIN.X1</text>
<text x="810.9" y="1153" font-size="19.44" letter-spacing="-0.26">FSIN.V1</text>
</svg></body></html>
